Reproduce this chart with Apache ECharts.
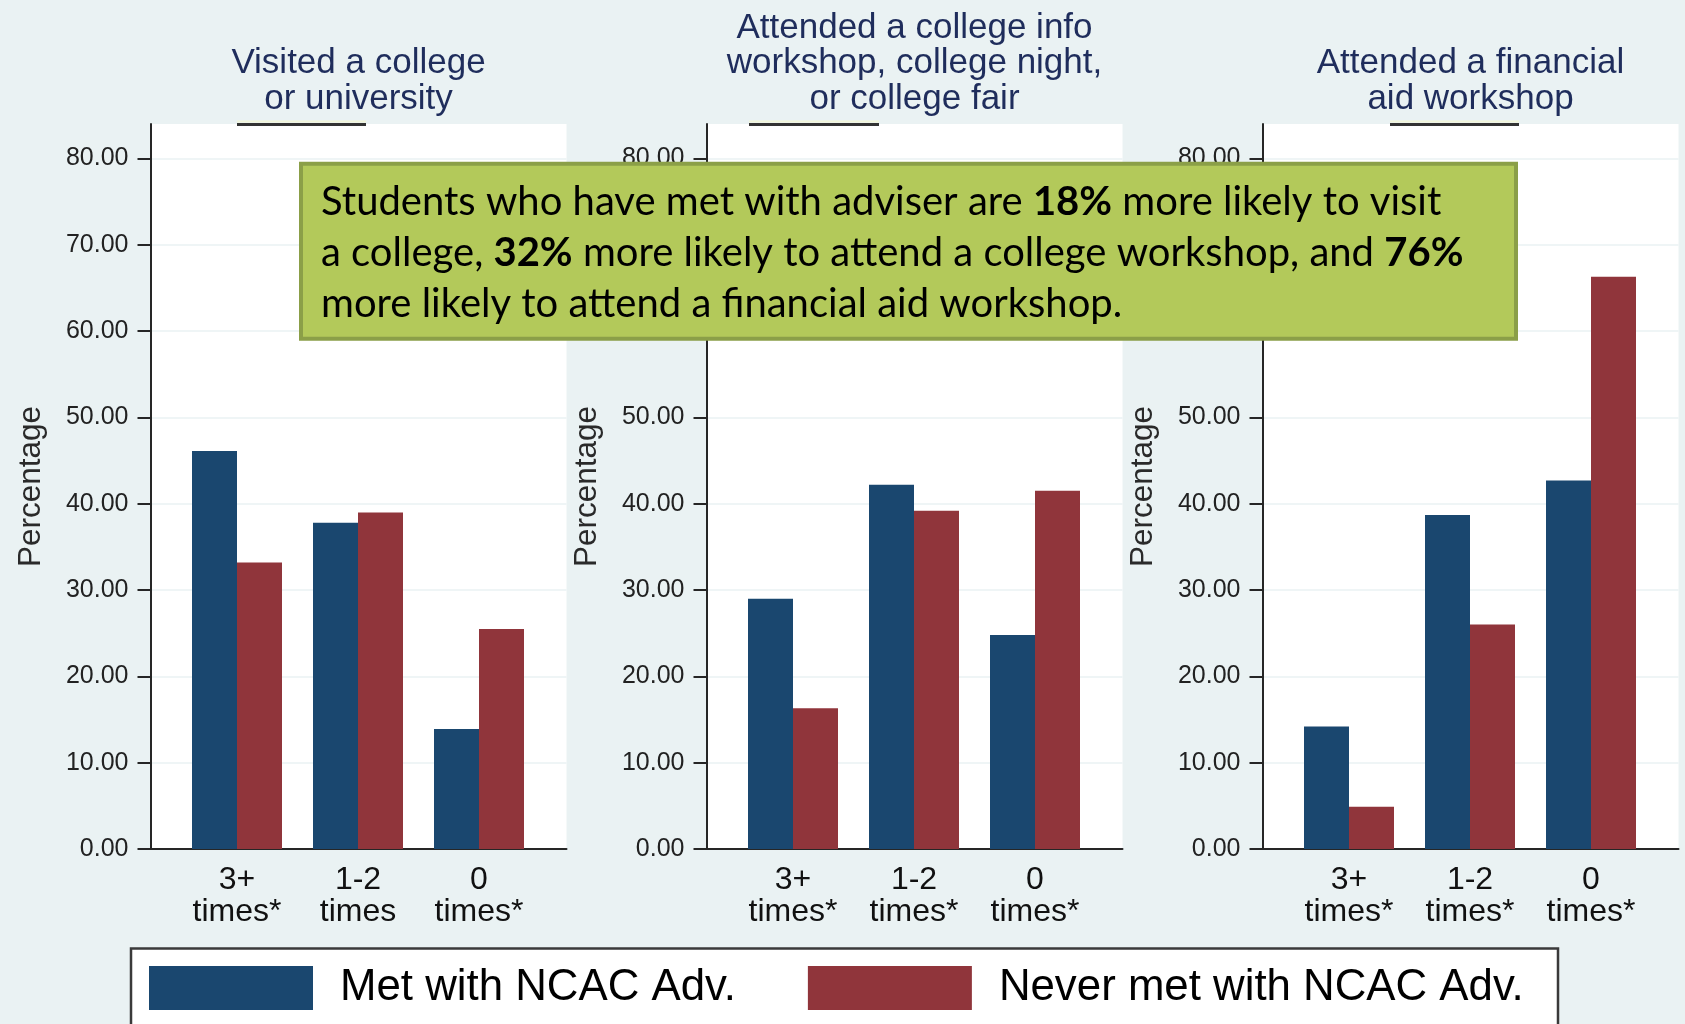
<!DOCTYPE html>
<html>
<head>
<meta charset="utf-8">
<title>College-going activities by NCAC adviser contact</title>
<script src="https://cdn.jsdelivr.net/npm/echarts@6/dist/echarts.min.js"></script>
<style>
  html, body { margin: 0; padding: 0; background: #eaf2f3; }
  #chart { width: 1685px; height: 1024px; }
</style>
</head>
<body>
<div id="chart"></div>
<script>
// Panel titles and the category labels under each panel
const panelTitles = [
  'Visited a college\nor university',
  'Attended a college info\nworkshop, college night,\nor college fair',
  'Attended a financial\naid workshop'
];
const categories1 = ['3+\ntimes*', '1-2\ntimes', '0\ntimes*'];
const categories2 = ['3+\ntimes*', '1-2\ntimes*', '0\ntimes*'];
const categories3 = ['3+\ntimes*', '1-2\ntimes*', '0\ntimes*'];

// Percentage of students, by number of adviser meetings
const metVisited   = [46.1, 37.8, 13.9];
const neverVisited = [33.2, 39.0, 25.5];
const metInfo      = [29.0, 42.2, 24.8];
const neverInfo    = [16.3, 39.2, 41.5];
const metAid       = [14.2, 38.7, 42.7];
const neverAid     = [4.9, 26.0, 66.3];

const yTicks = [0, 10, 20, 30, 40, 50, 60, 70, 80];
const seriesNames = ['Met with NCAC Adv.', 'Never met with NCAC Adv.'];

const panels = [
  { title: panelTitles[0], cats: categories1, met: metVisited, never: neverVisited },
  { title: panelTitles[1], cats: categories2, met: metInfo, never: neverInfo },
  { title: panelTitles[2], cats: categories3, met: metAid, never: neverAid }
];

// Layout
const FONT = "'Liberation Sans', Arial, sans-serif";
const NAVY = '#1a476f';
const MAROON = '#90353b';
const AXIS = '#262626';
const panelLeft = [150.5, 706.5, 1262.5];
const plotWidth = 416;
const plotTop = 124;
const plotBottom = 175;
const barInset = 26;
const barAreaWidth = 363;
const yMax = 84;

const grid = [], xAxis = [], yAxis = [], series = [], graphic = [];

panels.forEach((p, i) => {
  const left = panelLeft[i];
  // white plot region with axes and grid lines
  grid.push({ left: left, top: plotTop, width: plotWidth, bottom: plotBottom,
              show: true, backgroundColor: '#ffffff', borderWidth: 0 });
  // inner area that holds the bar groups
  grid.push({ left: left + barInset, top: plotTop, width: barAreaWidth, bottom: plotBottom });

  xAxis.push({
    type: 'category', gridIndex: 2 * i, data: p.cats,
    axisLine: { show: true, lineStyle: { color: AXIS, width: 2 } },
    axisTick: { show: false }, axisLabel: { show: false }, splitLine: { show: false }
  });
  xAxis.push({
    type: 'category', gridIndex: 2 * i + 1, data: p.cats,
    axisLine: { show: false }, axisTick: { show: false },
    axisLabel: { margin: 15, fontSize: 32, lineHeight: 32, color: '#111', fontFamily: FONT }
  });

  yAxis.push({
    type: 'value', gridIndex: 2 * i, min: 0, max: yMax, interval: 10,
    axisLine: { show: true, lineStyle: { color: AXIS, width: 2 } },
    axisTick: { show: true, length: 13, customValues: yTicks, lineStyle: { color: AXIS, width: 2 } },
    axisLabel: { customValues: yTicks, margin: 22, fontSize: 25, color: '#222', fontFamily: FONT,
                 formatter: v => v.toFixed(2) },
    splitLine: { show: true, lineStyle: { color: '#eaf2f3', width: 1.5 } },
    name: 'Percentage', nameLocation: 'middle', nameGap: 103,
    nameTextStyle: { fontSize: 31.5, color: '#2a2a2a', fontFamily: FONT }
  });
  yAxis.push({ type: 'value', gridIndex: 2 * i + 1, min: 0, max: yMax, show: false });

  series.push({
    type: 'bar', name: seriesNames[0], xAxisIndex: 2 * i + 1, yAxisIndex: 2 * i + 1,
    data: p.met, barWidth: 45, barGap: '0%', itemStyle: { color: NAVY }
  });
  series.push({
    type: 'bar', name: seriesNames[1], xAxisIndex: 2 * i + 1, yAxisIndex: 2 * i + 1,
    data: p.never, barWidth: 45, barGap: '0%', itemStyle: { color: MAROON }
  });

  // panel heading, bottom-aligned above the plot region
  graphic.push({
    type: 'text', x: left + plotWidth / 2, y: 116.6, z: 10,
    style: { text: p.title, align: 'center', verticalAlign: 'bottom',
             font: '35px ' + FONT, lineHeight: 35.5, fill: '#1f2d5c' }
  });
});

// short rules along the top edge of each plot region
[[237, 366], [749, 879], [1390, 1519]].forEach(([x1, x2]) => {
  graphic.push({ type: 'line', z: 10, shape: { x1: x1, y1: 124.5, x2: x2, y2: 124.5 },
                 style: { stroke: '#333', lineWidth: 3 } });
  graphic.push({ type: 'line', z: 10, shape: { x1: x1, y1: 121.5, x2: x2, y2: 121.5 },
                 style: { stroke: '#f1f5d9', lineWidth: 2 } });
});

// legend frame
graphic.push({ type: 'rect', z: 1, shape: { x: 131, y: 948.5, width: 1427, height: 120 },
               style: { fill: '#ffffff', stroke: '#3a3a3a', lineWidth: 2.5 } });

// callout summarising the differences
graphic.push({
  type: 'group', z: 100,
  children: [
    { type: 'rect', z: 100, shape: { x: 301, y: 163.7, width: 1215, height: 175 },
      style: { fill: '#b3c95a', stroke: '#8b9f48', lineWidth: 4 } },
    { type: 'text', z: 101, x: 321, y: 177,
      style: {
        text: 'Students who have met with adviser are {b|18%} more likely to visit\n' +
              'a college, {b|32%} more likely to attend a college workshop, and {b|76%}\n' +
              'more likely to attend a financial aid workshop.',
        font: "40px Lato, 'Open Sans', sans-serif", lineHeight: 51, fill: '#000',
        verticalAlign: 'top', align: 'left',
        rich: { b: { fontFamily: "Lato, 'Open Sans', sans-serif", fontSize: 40, fontWeight: 'bold',
                     lineHeight: 51, fill: '#000' } }
      } }
  ]
});

const option = {
  backgroundColor: '#eaf2f3',
  animation: false,
  grid: grid,
  xAxis: xAxis,
  yAxis: yAxis,
  series: series,
  legend: {
    data: seriesNames, left: 149, top: 966, padding: 0, orient: 'horizontal',
    icon: 'rect', itemWidth: 164, itemHeight: 44, itemGap: 72,
    textStyle: { fontSize: 43.8, color: '#000', fontFamily: FONT, padding: [0, 0, 0, 22] }
  },
  graphic: graphic
};

const chart = echarts.init(document.getElementById('chart'), null, { renderer: 'canvas' });
chart.setOption(option);
</script>
</body>
</html>
